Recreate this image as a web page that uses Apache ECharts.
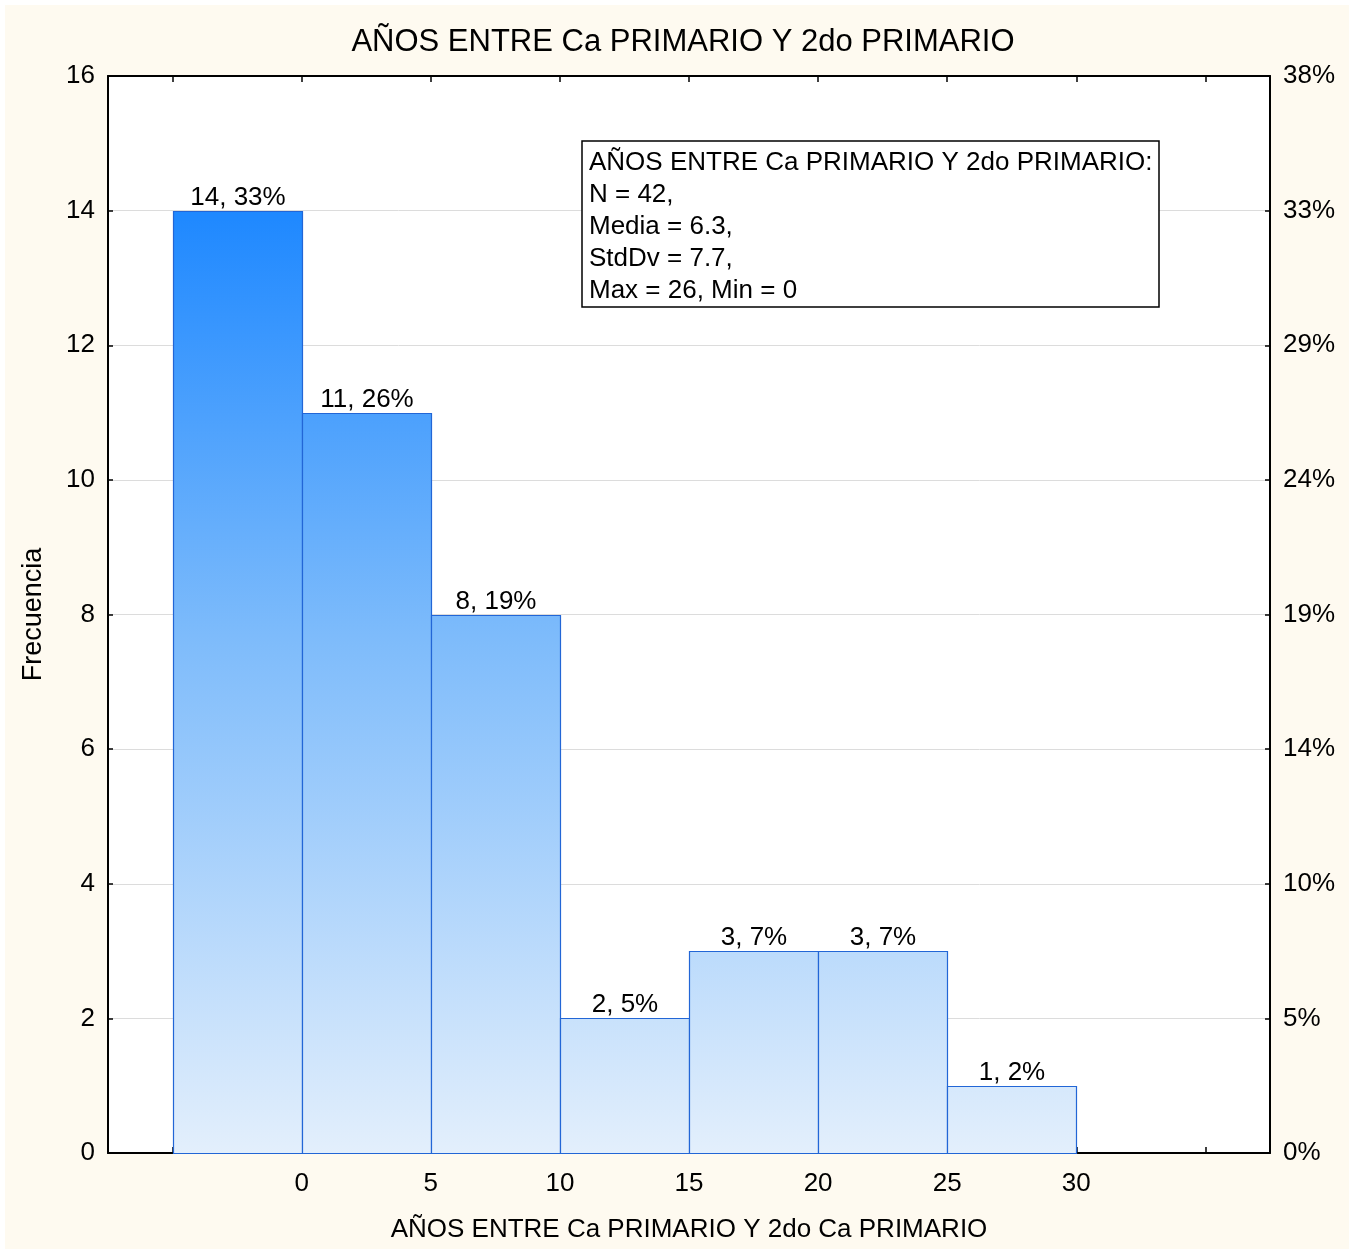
<!DOCTYPE html>
<html>
<head>
<meta charset="utf-8">
<script src="https://cdn.jsdelivr.net/npm/echarts@6/dist/echarts.min.js"></script>
<style>
html,body{margin:0;padding:0;background:#ffffff;}
#chart{position:absolute;left:5px;top:5px;width:1344px;height:1244px;}
</style>
</head>
<body>
<div id="chart"></div>
<script>
// ---- data ----
const titleText = 'AÑOS ENTRE Ca PRIMARIO Y 2do PRIMARIO';
const xAxisName = 'AÑOS ENTRE Ca PRIMARIO Y 2do Ca PRIMARIO';
const yAxisName = 'Frecuencia';
const binStarts = [-5, 0, 5, 10, 15, 20, 25];
const binEnds   = [0, 5, 10, 15, 20, 25, 30];
const counts    = [14, 11, 8, 2, 3, 3, 1];
const percents  = ['33%', '26%', '19%', '5%', '7%', '7%', '2%'];
const xTickValues  = [-5, 0, 5, 10, 15, 20, 25, 30, 35];
const xLabelValues = [0, 5, 10, 15, 20, 25, 30];
const leftTickLabels  = ['0', '2', '4', '6', '8', '10', '12', '14', '16'];
const rightTickLabels = ['0%', '5%', '10%', '14%', '19%', '24%', '29%', '33%', '38%'];
const statsLines = [
  'AÑOS ENTRE Ca PRIMARIO Y 2do PRIMARIO:',
  'N = 42,',
  'Media = 6.3,',
  'StdDv = 7.7,',
  'Max = 26, Min = 0'
];

const FONT = '"Liberation Sans", Arial, sans-serif';
const chart = echarts.init(document.getElementById('chart'), null, {renderer: 'canvas'});

const seriesData = binStarts.map((s, i) => [s, binEnds[i], counts[i], percents[i]]);

function makeOption(fill) {
  return {
    backgroundColor: '#FEFAF0',
    animation: false,
    textStyle: {fontFamily: FONT},
    title: [{
      text: titleText,
      left: 673, top: 17, textAlign: 'center',
      textStyle: {fontFamily: FONT, fontSize: 31, fontWeight: 'normal', color: '#000'}
    }, {
      text: statsLines.join('\n'),
      left: 577, top: 136,
      padding: [6, 7, 0, 7],
      backgroundColor: '#ffffff',
      borderColor: '#000', borderWidth: 1.5,
      textStyle: {fontFamily: FONT, fontSize: 26, fontWeight: 'normal', color: '#000', lineHeight: 32}
    }],
    grid: {left: 103, right: 79, top: 71, bottom: 96, show: true, backgroundColor: '#ffffff', borderWidth: 0},
    xAxis: [{
      type: 'value', min: -7.5, max: 37.5, position: 'bottom',
      name: xAxisName, nameLocation: 'middle', nameGap: 64,
      nameTextStyle: {fontFamily: FONT, fontSize: 26, color: '#000'},
      axisLine: {show: true, onZero: false, lineStyle: {color: '#000', width: 2}},
      axisTick: {show: true, inside: true, length: 6, customValues: xTickValues, lineStyle: {color: '#000', width: 1.5}},
      axisLabel: {customValues: xLabelValues, fontFamily: FONT, fontSize: 26, color: '#000', margin: 18},
      splitLine: {show: false}
    }, {
      type: 'value', min: -7.5, max: 37.5, position: 'top',
      axisLine: {show: true, onZero: false, lineStyle: {color: '#000', width: 2}},
      axisTick: {show: true, inside: true, length: 6, customValues: xTickValues, lineStyle: {color: '#000', width: 1.5}},
      axisLabel: {show: false},
      splitLine: {show: false}
    }],
    yAxis: [{
      type: 'value', min: 0, max: 16, interval: 2, position: 'left',
      name: yAxisName, nameLocation: 'middle', nameGap: 61,
      nameTextStyle: {fontFamily: FONT, fontSize: 27, color: '#000'},
      axisLine: {show: true, onZero: false, lineStyle: {color: '#000', width: 2}},
      axisTick: {show: true, inside: true, length: 5, lineStyle: {color: '#000', width: 1.5}},
      axisLabel: {fontFamily: FONT, fontSize: 26, color: '#000', margin: 13,
        formatter: v => leftTickLabels[Math.round(v / 2)]},
      splitLine: {show: true, lineStyle: {color: '#DCDCDC', width: 1}}
    }, {
      type: 'value', min: 0, max: 16, interval: 2, position: 'right',
      axisLine: {show: true, onZero: false, lineStyle: {color: '#000', width: 2}},
      axisTick: {show: true, inside: true, length: 5, lineStyle: {color: '#000', width: 1.5}},
      axisLabel: {fontFamily: FONT, fontSize: 26, color: '#000', margin: 13,
        formatter: v => rightTickLabels[Math.round(v / 2)]},
      splitLine: {show: false}
    }],
    series: [{
      type: 'custom',
      xAxisIndex: 0, yAxisIndex: 0,
      data: seriesData,
      encode: {x: [0, 1], y: 2},
      renderItem: function (params, api) {
        const p0 = api.coord([api.value(0), 0]);
        const p1 = api.coord([api.value(1), api.value(2)]);
        const x = Math.round(p0[0]) + 0.5, w = Math.round(p1[0]) - Math.round(p0[0]);
        const y = Math.round(p1[1]) + 0.5, h = Math.round(p0[1]) - Math.round(p1[1]);
        return {
          type: 'group',
          children: [{
            type: 'rect',
            shape: {x: x, y: y, width: w, height: h},
            style: {fill: fill, stroke: '#2266D6', lineWidth: 1.2}
          }, {
            type: 'text',
            style: {
              text: api.value(2) + ', ' + percents[params.dataIndex],
              x: x + w / 2, y: y - 1,
              align: 'center', verticalAlign: 'bottom',
              font: '26px ' + FONT, fill: '#000'
            }
          }]
        };
      }
    }]
  };
}

chart.setOption(makeOption('#5AA8FA'));
const yTop = chart.convertToPixel({yAxisIndex: 0}, 14);
const yBot = chart.convertToPixel({yAxisIndex: 0}, 0);
const grad = new echarts.graphic.LinearGradient(0, yTop, 0, yBot, [
  {offset: 0, color: '#1E88FF'},
  {offset: 0.45, color: '#7DBBFB'},
  {offset: 1, color: '#E3EFFC'}
], true);
chart.setOption(makeOption(grad), true);
</script>
</body>
</html>
